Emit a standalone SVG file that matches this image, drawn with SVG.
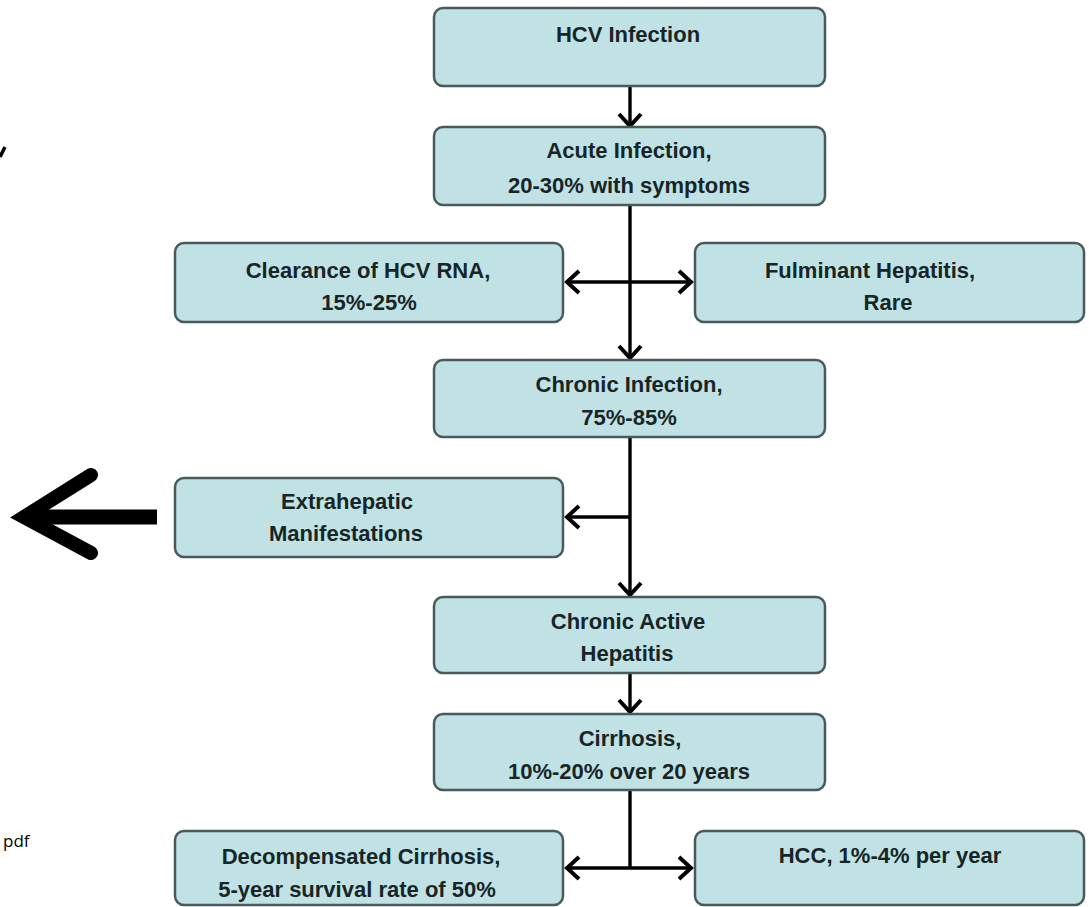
<svg xmlns="http://www.w3.org/2000/svg" width="1089" height="907" viewBox="0 0 1089 907">
<defs>
<style>
.box{fill:#c0e2e5;stroke:#4a5a5c;stroke-width:2.5}
.t{font-family:"Liberation Sans",Arial,sans-serif;font-weight:bold;font-size:22px;fill:#172526;text-anchor:middle}
.ln{fill:none;stroke:#000;stroke-width:3.4}
</style>
<marker id="ah" markerUnits="userSpaceOnUse" viewBox="-15 -13 19 26" markerWidth="19" markerHeight="26" refX="0" refY="0" orient="auto-start-reverse">
<path d="M-12,-11 L0,0 L-12,11" fill="none" stroke="#000" stroke-width="4" stroke-linejoin="miter"/>
</marker>
</defs>
<rect width="1089" height="907" fill="#fff"/>

<g id="connectors">
<line class="ln" x1="630" y1="87" x2="630" y2="126" marker-end="url(#ah)"/>
<line class="ln" x1="630" y1="205" x2="630" y2="358" marker-end="url(#ah)"/>
<line class="ln" x1="567" y1="282" x2="691" y2="282" marker-start="url(#ah)" marker-end="url(#ah)"/>
<line class="ln" x1="630" y1="437" x2="630" y2="595" marker-end="url(#ah)"/>
<line class="ln" x1="630" y1="517" x2="567" y2="517" marker-end="url(#ah)"/>
<line class="ln" x1="630" y1="673" x2="630" y2="712" marker-end="url(#ah)"/>
<line class="ln" x1="630" y1="790" x2="630" y2="868"/>
<line class="ln" x1="567" y1="868" x2="691" y2="868" marker-start="url(#ah)" marker-end="url(#ah)"/>
</g>

<g id="n-hcv"><rect class="box" x="434" y="8" width="391" height="78" rx="9"/><text class="t" x="628" y="42">HCV Infection</text></g>
<g id="n-acute"><rect class="box" x="434" y="127" width="391" height="78" rx="9"/><text class="t" x="629" y="158">Acute Infection,</text><text class="t" x="629" y="193">20-30% with symptoms</text></g>
<g id="n-clear"><rect class="box" x="175" y="243" width="388" height="79" rx="9"/><text class="t" x="368" y="278">Clearance of HCV RNA,</text><text class="t" x="369" y="310">15%-25%</text></g>
<g id="n-fulm"><rect class="box" x="695" y="243" width="389" height="79" rx="9"/><text class="t" x="870" y="278">Fulminant Hepatitis,</text><text class="t" x="888" y="310">Rare</text></g>
<g id="n-chronic"><rect class="box" x="434" y="360" width="391" height="77" rx="9"/><text class="t" x="629" y="392">Chronic Infection,</text><text class="t" x="629" y="425">75%-85%</text></g>
<g id="n-extra"><rect class="box" x="175" y="478" width="388" height="79" rx="9"/><text class="t" x="347" y="509">Extrahepatic</text><text class="t" x="346" y="541">Manifestations</text></g>
<g id="n-cah"><rect class="box" x="434" y="597" width="391" height="76" rx="9"/><text class="t" x="628" y="629">Chronic Active</text><text class="t" x="627" y="661">Hepatitis</text></g>
<g id="n-cirr"><rect class="box" x="434" y="714" width="391" height="76" rx="9"/><text class="t" x="630" y="746">Cirrhosis,</text><text class="t" x="629" y="779">10%-20% over 20 years</text></g>
<g id="n-decomp"><rect class="box" x="175" y="831" width="388" height="74" rx="9"/><text class="t" x="361" y="864">Decompensated Cirrhosis,</text><text class="t" x="357" y="897">5-year survival rate of 50%</text></g>
<g id="n-hcc"><rect class="box" x="695" y="831" width="389" height="74" rx="9"/><text class="t" x="890" y="863">HCC, 1%-4% per year</text></g>

<g id="big-arrow">
<line x1="30" y1="517" x2="157" y2="517" stroke="#000" stroke-width="15"/>
<polyline points="91,475 24,517 91,553" fill="none" stroke="#000" stroke-width="14" stroke-linecap="round" stroke-linejoin="miter"/>
</g>
<line x1="5" y1="147" x2="0" y2="157" stroke="#000" stroke-width="3.5"/>
<text x="3" y="847" font-family="'Open Sans','Liberation Sans',sans-serif" font-size="17" fill="#000">pdf</text>
</svg>
